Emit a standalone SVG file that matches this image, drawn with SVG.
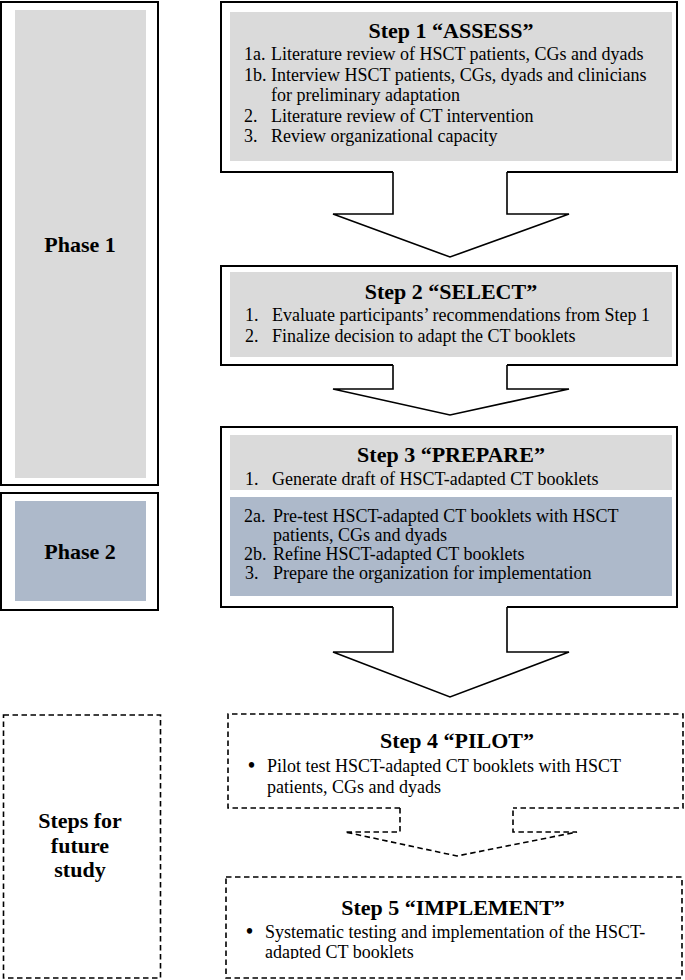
<svg xmlns="http://www.w3.org/2000/svg" width="685" height="980" viewBox="0 0 685 980">
<style>
.frame{fill:#fff;stroke:#000;stroke-width:2}
.dash{fill:none;stroke:#000;stroke-width:1.6;stroke-dasharray:5.5 3.5}
.gray{fill:#dadada}
.blue{fill:#adb9ca}
.arr{fill:#fff;stroke:none}
.arrl{fill:none;stroke:#000;stroke-width:1.6;stroke-linejoin:miter}
text{font-family:"Liberation Serif","Times New Roman",serif;fill:#000}
.t{font-size:22px;font-weight:bold;text-anchor:middle}
.p{font-size:22px;font-weight:bold;text-anchor:middle}
.b{font-size:18px}
.bu{font-size:20px;font-weight:bold}
</style>
<defs>
<clipPath id="c3"><rect x="222" y="440" width="460" height="46"/></clipPath>
<clipPath id="c5"><rect x="222" y="880" width="460" height="79"/></clipPath>
</defs>

<g id="phase1">
<rect class="frame" x="1" y="2" width="157" height="483"/>
<rect class="gray" x="15" y="10" width="131" height="468"/>
<text class="p" x="80" y="252">Phase 1</text>
</g>

<g id="phase2">
<rect class="frame" x="1" y="493" width="157" height="117"/>
<rect class="blue" x="15" y="501" width="131" height="100"/>
<text class="p" x="80" y="559">Phase 2</text>
</g>

<g id="future">
<rect class="dash" x="3.5" y="715" width="157" height="263"/>
<text class="p" x="80" y="828">Steps for</text>
<text class="p" x="80" y="853">future</text>
<text class="p" x="80" y="877">study</text>
</g>

<g id="step1">
<rect class="frame" x="221" y="2" width="456" height="170"/>
<rect class="gray" x="230" y="12" width="442" height="149"/>
<text class="t" x="451" y="38">Step 1 “ASSESS”</text>
<text class="b" x="244" y="60">1a.</text><text class="b" x="271" y="60">Literature review of HSCT patients, CGs and dyads</text>
<text class="b" x="244" y="81">1b.</text><text class="b" x="271" y="81">Interview HSCT patients, CGs, dyads and clinicians</text>
<text class="b" x="271" y="101">for preliminary adaptation</text>
<text class="b" x="244" y="122">2.</text><text class="b" x="271" y="122">Literature review of CT intervention</text>
<text class="b" x="244" y="142">3.</text><text class="b" x="271" y="142">Review organizational capacity</text>
</g>

<g id="step2">
<rect class="frame" x="221" y="266" width="456" height="99"/>
<rect class="gray" x="230" y="272" width="442" height="85"/>
<text class="t" x="451" y="299">Step 2 “SELECT”</text>
<text class="b" x="245" y="321">1.</text><text class="b" x="272" y="321">Evaluate participants’ recommendations from Step 1</text>
<text class="b" x="245" y="342">2.</text><text class="b" x="272" y="342">Finalize decision to adapt the CT booklets</text>
</g>

<g id="step3">
<rect class="frame" x="221" y="427" width="456" height="180"/>
<rect class="gray" x="230" y="435" width="442" height="55"/>
<rect class="blue" x="230" y="497" width="442" height="99"/>
<text class="t" x="451" y="462">Step 3 “PREPARE”</text>
<g clip-path="url(#c3)">
<text class="b" x="245" y="485">1.</text><text class="b" x="272" y="485">Generate draft of HSCT-adapted CT booklets</text>
</g>
<text class="b" x="244" y="522">2a.</text><text class="b" x="273" y="522">Pre-test HSCT-adapted CT booklets with HSCT</text>
<text class="b" x="273" y="541">patients, CGs and dyads</text>
<text class="b" x="244" y="560">2b.</text><text class="b" x="273" y="560">Refine HSCT-adapted CT booklets</text>
<text class="b" x="245" y="579">3.</text><text class="b" x="273" y="579">Prepare the organization for implementation</text>
</g>

<g id="step4">
<path class="dash" d="M400,808 H228 V714 H683 V808 H513"/>
<text class="t" x="457" y="748">Step 4 “PILOT”</text>
<text class="bu" x="248" y="772">•</text><text class="b" x="267" y="772">Pilot test HSCT-adapted CT booklets with HSCT</text>
<text class="b" x="267" y="793">patients, CGs and dyads</text>
</g>

<g id="step5">
<rect class="dash" x="226" y="877" width="456" height="101"/>
<text class="t" x="453" y="915">Step 5 “IMPLEMENT”</text>
<g clip-path="url(#c5)">
<text class="bu" x="246" y="938">•</text><text class="b" x="265" y="938">Systematic testing and implementation of the HSCT-</text>
<text class="b" x="265" y="958">adapted CT booklets</text>
</g>
</g>

<g id="connectors">
<path class="arr" d="M393,170 V214 H333 L450,257 L569,214 H507 V170 Z"/>
<path class="arrl" d="M393,172 V214 H333 L450,257 L569,214 H507 V172"/>
<path class="arr" d="M393,363 V389 H333 L450,415 L569,389 H507 V363 Z"/>
<path class="arrl" d="M393,365 V389 H333 L450,415 L569,389 H507 V365"/>
<path class="arr" d="M393,605 V652 H333 L450,697 L569,652 H507 V605 Z"/>
<path class="arrl" d="M393,607 V652 H333 L450,697 L569,652 H507 V607"/>
<path class="dash" d="M400,808 V832 H345 L457,856 L577,832 H513 V808"/>
</g>
</svg>
